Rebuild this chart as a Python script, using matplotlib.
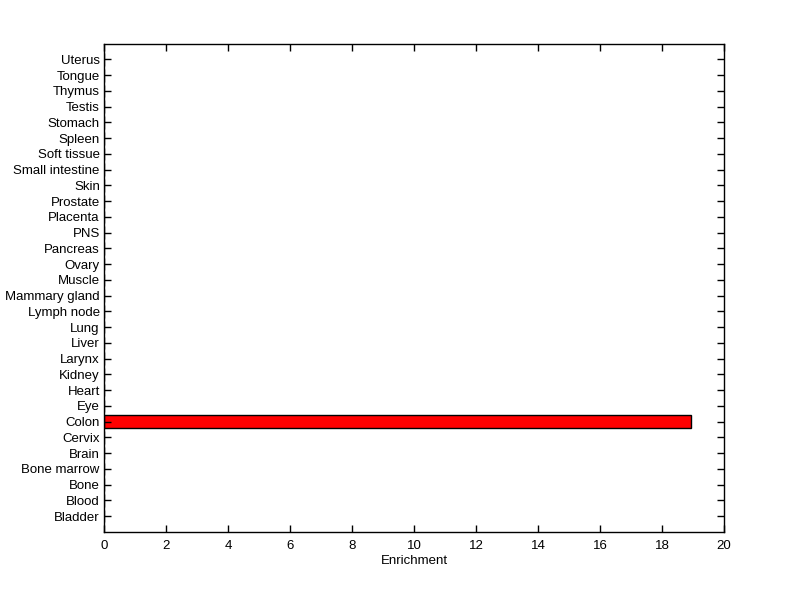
import matplotlib
matplotlib.use("Agg")
import matplotlib.pyplot as plt

tissues = ["Bladder", "Blood", "Bone", "Bone marrow", "Brain", "Cervix", "Colon", "Eye",
           "Heart", "Kidney", "Larynx", "Liver", "Lung", "Lymph node", "Mammary gland",
           "Muscle", "Ovary", "Pancreas", "PNS", "Placenta", "Prostate", "Skin",
           "Small intestine", "Soft tissue", "Spleen", "Stomach", "Testis", "Thymus",
           "Tongue", "Uterus"]
enrichment = [0, 0, 0, 0, 0, 0, 18.95, 0, 0, 0, 0, 0, 0, 0, 0, 0, 0, 0, 0, 0, 0, 0,
              0, 0, 0, 0, 0, 0, 0, 0]
x_ticks = [0, 2, 4, 6, 8, 10, 12, 14, 16, 18, 20]

plt.rcParams['font.family'] = ['Liberation Sans', 'DejaVu Sans']
plt.rcParams['font.size'] = 9.5

fig = plt.figure(figsize=(8, 5.99), dpi=100)
ax = fig.add_axes([0.13, 0.112, 0.775, 0.815])

pos = list(range(1, len(tissues) + 1))
ax.barh(pos, enrichment, height=0.8, color="#ff0000", edgecolor="black", linewidth=1)

ax.set_xlim(0, 20)
ax.set_ylim(0, len(tissues) + 1)
ax.set_xticks(x_ticks)
ax.set_yticks(pos)
ax.set_yticklabels(tissues)
ax.set_xlabel("Enrichment", labelpad=2)
ax.tick_params(direction="in", length=5, width=1, top=True, right=True, colors="black")
ax.tick_params(axis="y", pad=3)
ax.tick_params(axis="x", pad=6)
for s in ax.spines.values():
    s.set_linewidth(1)

fig.savefig("out.png", dpi=100)
